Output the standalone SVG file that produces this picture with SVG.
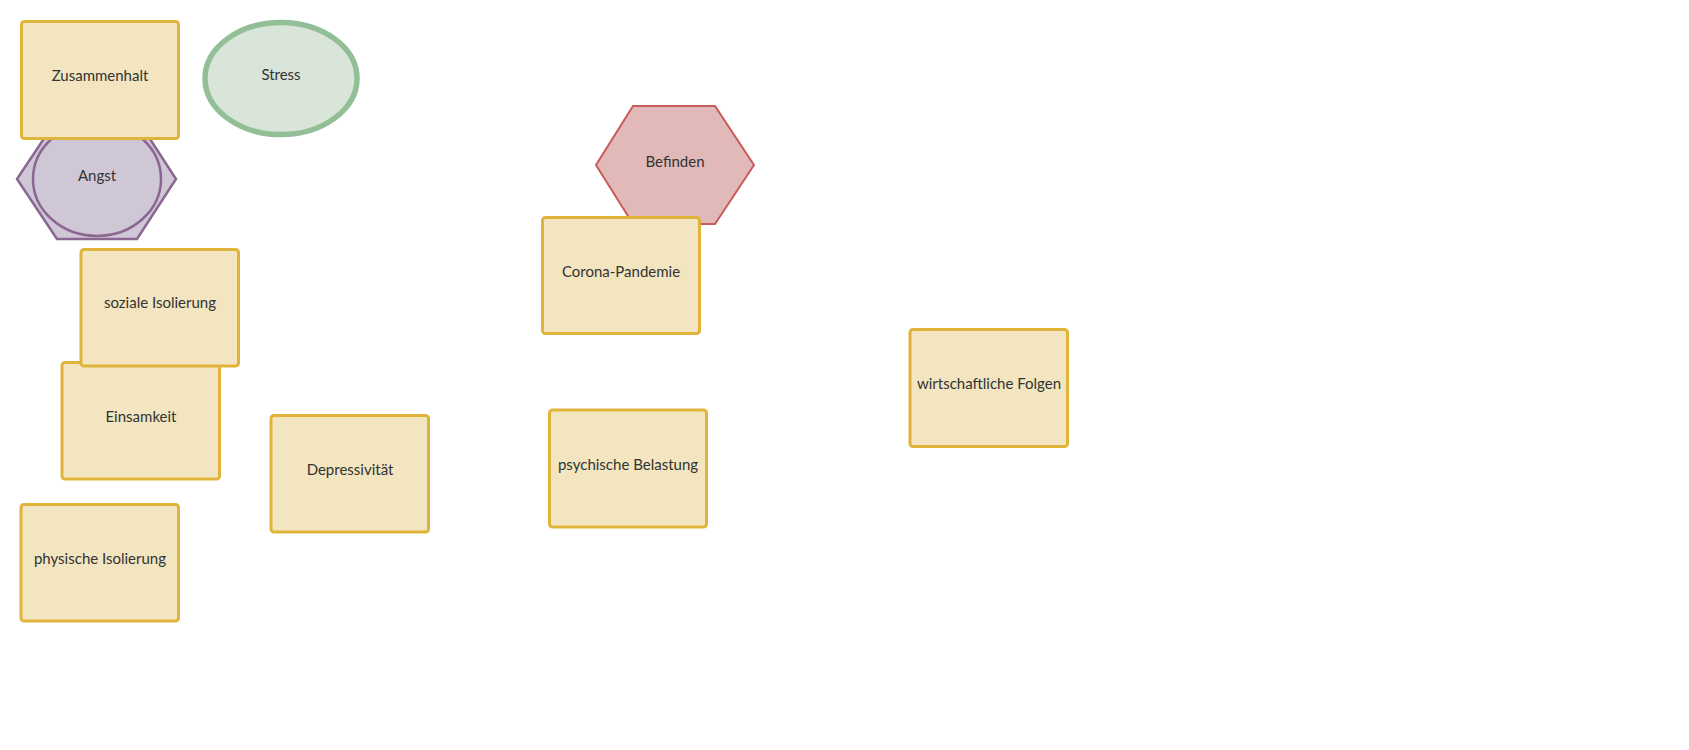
<svg xmlns="http://www.w3.org/2000/svg" width="1689" height="750" viewBox="0 0 1689 750">
<style>
.box{fill:#F2E5C0;stroke:#E0B33A;stroke-width:3}
.lbl{font-family:Lato,"Liberation Sans",sans-serif;font-size:15px;fill:#333;text-anchor:middle;dominant-baseline:central}
</style>
<rect width="1689" height="750" fill="#fff"/>
<g id="connectors"></g>
<g id="angst">
<polygon points="57,119 137,119 176,179 137,239 57,239 17,179" fill="#D0C7D6" stroke="#8A6790" stroke-width="2.5"/>
<ellipse cx="97" cy="179" rx="64" ry="57" fill="#D0C7D6" stroke="#8A6790" stroke-width="2.5"/>
<text class="lbl" x="97" y="175">Angst</text>
</g>
<g id="zusammenhalt">
<rect class="box" x="21.5" y="21.5" width="157" height="117" rx="3"/>
<text class="lbl" x="100" y="75">Zusammenhalt</text>
</g>
<g id="stress">
<ellipse cx="281" cy="78.5" rx="76" ry="56" fill="#D9E5D8" stroke="#93BF96" stroke-width="5.5"/>
<text class="lbl" x="281" y="74">Stress</text>
</g>
<g id="befinden">
<polygon points="633,106 715,106 754,165 715,224 633,224 596,165" fill="#E0B9B8" stroke="#C95B5B" stroke-width="2"/>
<text class="lbl" x="675" y="161">Befinden</text>
</g>
<g id="corona">
<rect class="box" x="542.5" y="217.5" width="157" height="116" rx="3"/>
<text class="lbl" x="621" y="271">Corona-Pandemie</text>
</g>
<g id="einsamkeit">
<rect class="box" x="62" y="362.5" width="157.5" height="116.5" rx="3"/>
<text class="lbl" x="141" y="416">Einsamkeit</text>
</g>
<g id="soziale">
<rect class="box" x="81" y="249.5" width="157.5" height="116.5" rx="3"/>
<text class="lbl" x="160" y="302">soziale Isolierung</text>
</g>
<g id="depressivitaet">
<rect class="box" x="271" y="415.5" width="157.5" height="116.5" rx="3"/>
<text class="lbl" x="350" y="469">Depressivität</text>
</g>
<g id="physische">
<rect class="box" x="21" y="504.5" width="157.5" height="116.5" rx="3"/>
<text class="lbl" x="100" y="558">physische Isolierung</text>
</g>
<g id="psychische">
<rect class="box" x="549.5" y="410" width="157" height="117" rx="3"/>
<text class="lbl" x="628" y="464">psychische Belastung</text>
</g>
<g id="wirtschaftliche">
<rect class="box" x="910" y="329.5" width="157.5" height="117" rx="3"/>
<text class="lbl" x="989" y="383">wirtschaftliche Folgen</text>
</g>
</svg>
